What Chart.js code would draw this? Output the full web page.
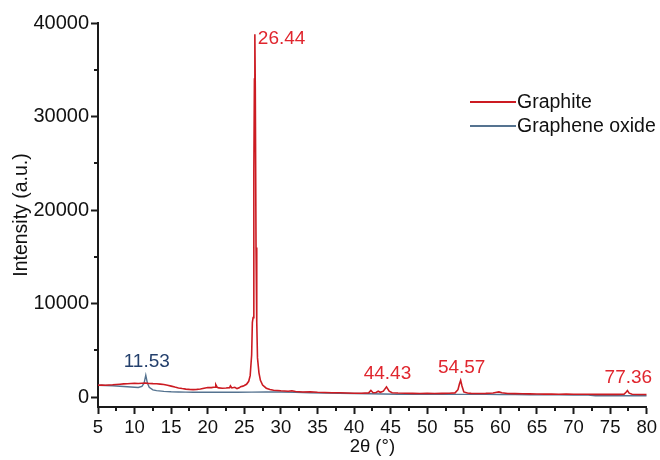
<!DOCTYPE html>
<html>
<head>
<meta charset="utf-8">
<script src="https://cdn.jsdelivr.net/npm/chart.js@4.4.1/dist/chart.umd.min.js"></script>
<style>
  html, body { margin: 0; padding: 0; background: #fff; }
  #wrap { width: 660px; height: 460px; }
</style>
</head>
<body>
<div id="wrap"><canvas id="xrdChart" width="660" height="460"></canvas></div>
<script>
// =========================================================
// XRD pattern: graphite vs graphene oxide
const graphiteAngle = [
  5.0, 5.5, 6.0, 6.5, 7.0, 7.5, 8.0, 8.5, 9.0, 9.5, 10.0, 10.5, 11.0, 11.5, 12.0, 12.5,
  13.0, 13.5, 14.0, 14.5, 15.0, 15.5, 16.0, 16.5, 17.0, 17.5, 18.0, 18.5, 19.0, 19.5,
  20.0, 20.5, 21.0, 21.1, 21.3, 21.5, 22.0, 22.5, 23.0, 23.1, 23.3, 23.7, 24.0, 24.3,
  24.5, 24.8, 25.0, 25.3, 25.6, 25.8, 26.0, 26.1, 26.2, 26.3, 26.38, 26.44, 26.5, 26.6,
  26.7, 26.8, 27.0, 27.2, 27.5, 28.0, 28.5, 29.0, 30.0, 31.0, 31.5, 32.0, 33.0, 34.0,
  35.0, 36.0, 37.0, 38.0, 39.0, 40.0, 41.0, 42.0, 42.3, 42.6, 43.0, 43.3, 43.6, 44.0,
  44.43, 44.8, 45.2, 46.0, 47.0, 48.0, 49.0, 50.0, 51.0, 52.0, 53.0, 53.8, 54.2, 54.4,
  54.57, 54.75, 55.0, 55.5, 56.0, 57.0, 58.0, 59.0, 59.5, 59.8, 60.2, 61.0, 62.0, 63.0,
  64.0, 65.0, 66.0, 67.0, 68.0, 69.0, 70.0, 71.0, 72.0, 73.0, 74.0, 75.0, 76.0, 76.9,
  77.2, 77.36, 77.6, 78.0, 79.0, 80.0
];
const graphiteIntensity = [
  1280, 1300, 1270, 1310, 1330, 1360, 1390, 1420, 1440, 1470, 1480, 1460, 1490, 1500, 1470, 1450,
  1440, 1400, 1350, 1270, 1180, 1080, 990, 920, 860, 830, 810, 830, 880, 960,
  1040, 1020, 1080, 1340, 1050, 990, 960, 980, 1020, 1200, 990, 1060, 920, 1000,
  1120, 1180, 1250, 1380, 1700, 2300, 4500, 8000, 8500, 24000, 34000, 38800, 33000, 16000,
  8000, 4200, 2600, 1800, 1300, 960, 820, 740, 680, 640, 690, 600, 560, 580,
  520, 500, 480, 470, 440, 420, 420, 460, 720, 470, 500, 640, 520, 640,
  1100, 640, 480, 440, 420, 410, 400, 410, 400, 410, 420, 460, 800, 1400,
  1800, 1200, 560, 440, 410, 400, 410, 440, 530, 560, 470, 400, 380, 360,
  350, 340, 330, 330, 320, 330, 320, 310, 320, 300, 310, 300, 300, 320,
  560, 700, 430, 310, 290, 280
];

const goAngle = [
  5.0, 6.0, 7.0, 8.0, 9.0, 10.0, 10.5, 11.0, 11.3, 11.53, 11.75, 12.0, 12.5, 13.0, 14.0,
  15.0, 16.0, 17.0, 18.0, 20.0, 22.0, 24.0, 26.0, 28.0, 30.0, 32.0, 34.0, 36.0, 38.0,
  40.0, 42.0, 44.0, 46.0, 48.0, 50.0, 52.0, 54.0, 56.0, 58.0, 60.0, 62.0, 64.0, 66.0,
  68.0, 70.0, 72.0, 73.0, 75.0, 77.0, 78.0, 80.0
];
const goIntensity = [
  1270, 1250, 1220, 1170, 1110, 1060, 1040, 1150, 1500, 2350, 1500, 1050, 780, 700, 620,
  580, 560, 540, 530, 520, 520, 530, 540, 560, 560, 520, 480, 440, 420,
  390, 370, 340, 320, 310, 310, 300, 300, 300, 300, 290, 280, 260, 250,
  250, 240, 220, 160, 150, 150, 160, 160
];

// peaks to annotate: angle + which series it belongs to
const peakAngles = [11.53, 26.44, 44.43, 54.57, 77.36];
const peakSeries = ['go', 'graphite', 'graphite', 'graphite', 'graphite'];

const seriesNames = ['Graphite', 'Graphene oxide'];
const xTitle = '2\u03b8 (\u00b0)';
const yTitle = 'Intensity (a.u.)';

// axis ranges and tick labels
const xTicks = [5, 10, 15, 20, 25, 30, 35, 40, 45, 50, 55, 60, 65, 70, 75, 80];
const yTicks = [0, 10000, 20000, 30000, 40000];
const yMin = -1050;

// Theme & Style Config
const graphiteColor = '#cc1b22';
const goColor = '#557390';
const graphiteLabelColor = '#e0262e';
const goLabelColor = '#233f6c';
const axisColor = '#1a1a1a';
const textColor = '#111';
const fontFamily = '"Liberation Sans", Arial, Helvetica, sans-serif';

const toPoints = (xs, ys) => xs.map((x, i) => ({ x: x, y: ys[i] }));
const midpoints = arr => arr.slice(1).map((v, i) => (v + arr[i]) / 2);

// =======================
// Plugins
// =======================
const minorTicks = {
  id: 'minorTicks',
  afterDraw(chart) {
    const c = chart.ctx;
    const xs = chart.scales.x, ys = chart.scales.y;
    c.save();
    c.strokeStyle = axisColor;
    c.lineWidth = 2;
    c.beginPath();
    midpoints(xTicks).forEach(v => {
      const px = Math.round(xs.getPixelForValue(v));
      c.moveTo(px, xs.top);
      c.lineTo(px, xs.top + 4);
    });
    midpoints(yTicks).forEach(v => {
      const py = Math.round(ys.getPixelForValue(v));
      c.moveTo(ys.right, py);
      c.lineTo(ys.right - 4, py);
    });
    c.stroke();
    c.restore();
  }
};

const peakLabels = {
  id: 'peakLabels',
  afterDatasetsDraw(chart) {
    const c = chart.ctx;
    const xs = chart.scales.x, ys = chart.scales.y;
    c.save();
    c.font = '19px ' + fontFamily;
    c.textBaseline = 'middle';
    peakAngles.forEach((a, i) => {
      const isGO = peakSeries[i] === 'go';
      const angles = isGO ? goAngle : graphiteAngle;
      const vals = isGO ? goIntensity : graphiteIntensity;
      const y = vals[angles.indexOf(a)];
      const px = xs.getPixelForValue(a);
      const py = ys.getPixelForValue(y);
      c.fillStyle = isGO ? goLabelColor : graphiteLabelColor;
      const text = a.toFixed(2);
      if (y > ys.max * 0.8) {
        // tall peak: label beside the top
        c.textAlign = 'left';
        c.fillText(text, px + 3, py + 5);
      } else {
        c.textAlign = 'center';
        c.fillText(text, px + 1, py - 13);
      }
    });
    c.restore();
  }
};

const lineLegend = {
  id: 'lineLegend',
  afterDraw(chart) {
    const c = chart.ctx;
    const x0 = 470, x1 = 516, y0 = 102, gap = 24;
    c.save();
    c.font = '19.5px ' + fontFamily;
    c.textAlign = 'left';
    c.textBaseline = 'middle';
    chart.data.datasets.forEach((ds, i) => {
      const y = y0 + i * gap;
      c.strokeStyle = ds.borderColor;
      c.lineWidth = 2;
      c.beginPath();
      c.moveTo(x0, y);
      c.lineTo(x1, y);
      c.stroke();
      c.fillStyle = textColor;
      c.fillText(ds.label, x1 + 1, y + 1);
    });
    c.restore();
  }
};

// =======================
// Chart Configuration
// =======================
const ctx = document.getElementById('xrdChart').getContext('2d');

const axisGrid = {
  drawOnChartArea: false,
  drawTicks: true,
  tickLength: 7,
  tickWidth: 2,
  tickColor: axisColor
};

new Chart(ctx, {
  type: 'line',
  data: {
    datasets: [
      {
        label: seriesNames[0],
        data: toPoints(graphiteAngle, graphiteIntensity),
        borderColor: graphiteColor,
        borderWidth: 1.6,
        pointRadius: 0,
        tension: 0
      },
      {
        label: seriesNames[1],
        data: toPoints(goAngle, goIntensity),
        borderColor: goColor,
        borderWidth: 1.4,
        pointRadius: 0,
        tension: 0
      }
    ]
  },
  options: {
    responsive: false,
    animation: false,
    devicePixelRatio: 1,
    layout: { padding: { left: 0, right: 13, top: 23, bottom: 0 } },
    plugins: {
      legend: { display: false },
      tooltip: { enabled: false }
    },
    scales: {
      x: {
        type: 'linear',
        min: xTicks[0],
        max: xTicks[xTicks.length - 1],
        afterFit: s => { s.height = 53; },
        afterBuildTicks: s => { s.ticks = xTicks.map(v => ({ value: v })); },
        ticks: {
          padding: 3,
          maxRotation: 0,
          autoSkip: false,
          color: textColor,
          font: { family: fontFamily, size: 18.5 },
          callback: v => String(v)
        },
        grid: axisGrid,
        border: { display: true, width: 2, color: axisColor },
        title: {
          display: true,
          text: xTitle,
          color: textColor,
          font: { family: fontFamily, size: 18.5 },
          padding: { top: 0, bottom: 2 }
        }
      },
      y: {
        min: yMin,
        max: yTicks[yTicks.length - 1],
        afterFit: s => { s.width = 98; },
        afterBuildTicks: s => { s.ticks = yTicks.map(v => ({ value: v })); },
        ticks: {
          padding: 2,
          autoSkip: false,
          color: textColor,
          font: { family: fontFamily, size: 20 },
          callback: v => String(v)
        },
        grid: axisGrid,
        border: { display: true, width: 2, color: axisColor },
        title: {
          display: true,
          text: yTitle,
          color: textColor,
          font: { family: fontFamily, size: 19.5 },
          padding: { top: 10, bottom: 0 }
        }
      }
    }
  },
  plugins: [minorTicks, peakLabels, lineLegend]
});
</script>
</body>
</html>
